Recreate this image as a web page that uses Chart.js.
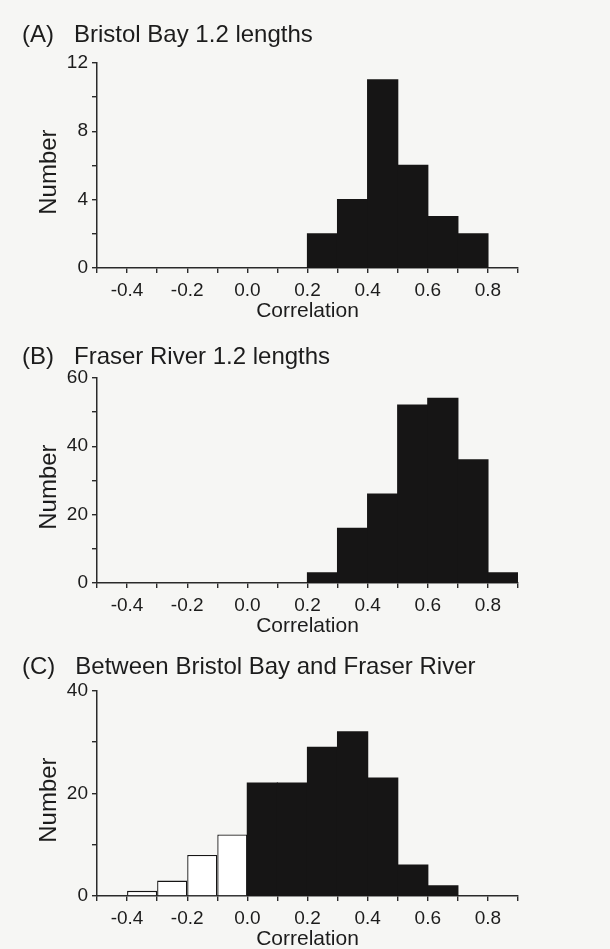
<!DOCTYPE html>
<html>
<head>
<meta charset="utf-8">
<script src="https://cdn.jsdelivr.net/npm/chart.js@4.4.1/dist/chart.umd.min.js"></script>
<style>
  body { margin: 0; background: #f6f6f4; width: 610px; height: 949px; position: relative; overflow: hidden; }
  .panel { position: absolute; left: 0; width: 610px; height: 328px; }
</style>
</head>
<body>
<div class="panel" style="top:0px"><canvas id="histA" width="610" height="328"></canvas></div>
<div class="panel" style="top:315px"><canvas id="histB" width="610" height="328"></canvas></div>
<div class="panel" style="top:628px"><canvas id="histC" width="610" height="328"></canvas></div>
<script>
// Correlation tick labels shared by all panels
const corrLabels = [-0.4, -0.2, 0.0, 0.2, 0.4, 0.6, 0.8];

// (A) Bristol Bay 1.2 lengths
const binsA = [0.25, 0.35, 0.45, 0.55, 0.65, 0.75];
const countsA = [2, 4, 11, 6, 3, 2];
const yLabelsA = [0, 4, 8, 12];

// (B) Fraser River 1.2 lengths
const binsB = [0.25, 0.35, 0.45, 0.55, 0.65, 0.75, 0.85];
const countsB = [3, 16, 26, 52, 54, 36, 3];
const yLabelsB = [0, 20, 40, 60];

// (C) Between Bristol Bay and Fraser River
const binsC = [-0.35, -0.25, -0.15, -0.05, 0.05, 0.15, 0.25, 0.35, 0.45, 0.55, 0.65];
const countsC = [1, 3, 8, 12, 22, 22, 29, 32, 23, 6, 2];
const yLabelsC = [0, 20, 40];

const FONT = "'Liberation Sans', Arial, Helvetica, sans-serif";
const INK = '#1c1c1c';
const BAR = '#161515';

function makeHist(id, title, bins, counts, yLabels, yStep, titlePad) {
    const ctx = document.getElementById(id).getContext('2d');
    return new Chart(ctx, {
        type: 'bar',
        data: {
            datasets: [{
                data: bins.map((x, i) => ({ x: x, y: counts[i] })),
                // negative correlations drawn as open bars, the rest solid
                backgroundColor: bins.map(x => x < 0 ? '#ffffff' : BAR),
                borderColor: BAR,
                borderWidth: bins.map(x => x < 0 ? 1.3 : 0),
                inflateAmount: bins.map(x => x < 0 ? 0 : 0.6),
                barPercentage: 1,
                categoryPercentage: 1
            }]
        },
        options: {
            responsive: false,
            animation: false,
            layout: { padding: { left: 22, right: 92, top: 0, bottom: 0 } },
            plugins: {
                legend: { display: false },
                tooltip: { enabled: false },
                title: {
                    display: true,
                    text: title,
                    align: 'start',
                    color: INK,
                    font: { family: FONT, size: 24, weight: 'normal' },
                    padding: titlePad
                }
            },
            scales: {
                x: {
                    type: 'linear',
                    min: -0.5,
                    max: 0.9,
                    offset: false,
                    afterFit: s => { s.height = 60; },
                    grid: { offset: false, drawOnChartArea: false, drawTicks: true, tickLength: 5, color: '#2a2a2a', lineWidth: 1.4 },
                    border: { color: '#2a2a2a', width: 1.5 },
                    ticks: {
                        stepSize: 0.1,
                        autoSkip: false,
                        maxRotation: 0,
                        padding: 6,
                        color: INK,
                        font: { family: FONT, size: 19 },
                        callback: v => {
                            const k = Math.round(v * 10) / 10;
                            return corrLabels.includes(k) ? k.toFixed(1) : '';
                        }
                    },
                    title: {
                        display: true,
                        text: 'Correlation',
                        color: INK,
                        font: { family: FONT, size: 21 },
                        padding: 4
                    }
                },
                y: {
                    min: 0,
                    max: yLabels[yLabels.length - 1],
                    afterFit: s => { s.width = 75; },
                    grid: { drawOnChartArea: false, drawTicks: true, tickLength: 5, color: '#2a2a2a', lineWidth: 1.4 },
                    border: { color: '#2a2a2a', width: 1.5 },
                    ticks: {
                        stepSize: yStep,
                        autoSkip: false,
                        padding: 4,
                        color: INK,
                        font: { family: FONT, size: 19 },
                        callback: v => yLabels.includes(v) ? v : ''
                    },
                    title: {
                        display: true,
                        text: 'Number  ',
                        color: INK,
                        font: { family: FONT, size: 24 },
                        padding: 13
                    }
                }
            }
        }
    });
}

makeHist('histA', '(A)   Bristol Bay 1.2 lengths', binsA, countsA, yLabelsA, 2, { top: 21, bottom: 13 });
makeHist('histB', '(B)   Fraser River 1.2 lengths', binsB, countsB, yLabelsB, 10, { top: 28, bottom: 6 });
makeHist('histC', '(C)   Between Bristol Bay and Fraser River', binsC, countsC, yLabelsC, 10, { top: 25, bottom: 9 });
</script>
</body>
</html>
